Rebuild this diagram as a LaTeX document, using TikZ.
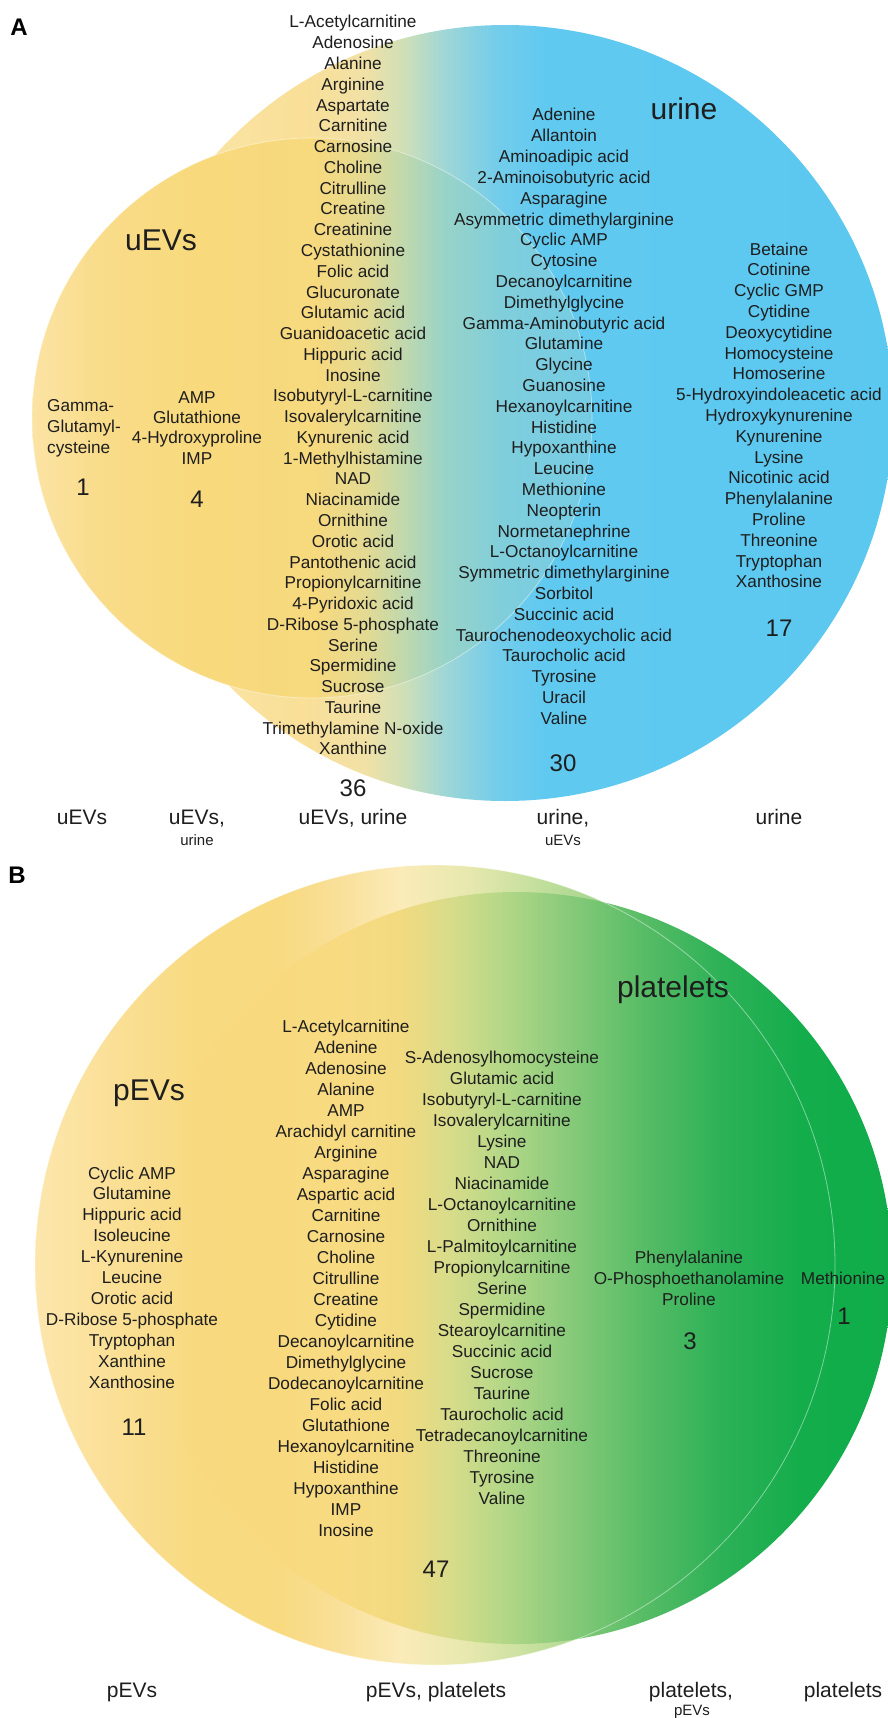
\documentclass[tikz,border=0pt]{standalone}
\usepackage{fontspec}
\setmainfont{Liberation Sans}
\usepackage{tikz}
\usetikzlibrary{fadings}
\definecolor{venntext}{HTML}{1E1E1E}
% panel A colours
\definecolor{ur0}{HTML}{FBE8B2}
\definecolor{ur1}{HTML}{FAE3A2}
\definecolor{ur2}{HTML}{F9DF98}
\definecolor{ur3}{HTML}{F1E1A6}
\definecolor{ur4}{HTML}{CDDFB8}
\definecolor{ur5}{HTML}{9FD6D6}
\definecolor{ur6}{HTML}{74CDEA}
\definecolor{ur7}{HTML}{60C9F0}
\definecolor{ur8}{HTML}{5BC8F0}
\definecolor{ue0}{HTML}{FBE3A4}
\definecolor{ue1}{HTML}{F9DC8A}
\definecolor{ue2}{HTML}{F8D97C}
\definecolor{ue3}{HTML}{F7D97E}
\definecolor{ue4}{HTML}{E4DA92}
\definecolor{ue5}{HTML}{BFD8AE}
\definecolor{ue6}{HTML}{98D3C8}
\definecolor{ue7}{HTML}{7FCEDC}
\definecolor{ue8}{HTML}{74CCE4}
% panel B colours
\definecolor{pe0}{HTML}{FCE6AC}
\definecolor{pe1}{HTML}{FADF94}
\definecolor{pe2}{HTML}{F8DA80}
\definecolor{pe3}{HTML}{F9E09A}
\definecolor{pe4}{HTML}{FBEBB8}
\definecolor{pe5}{HTML}{E6E8AE}
\definecolor{pe6}{HTML}{C2DF9C}
\definecolor{pe7}{HTML}{A0D48C}
\definecolor{pe8}{HTML}{8ECC80}
\definecolor{pl1}{HTML}{F8D97A}
\definecolor{pl2}{HTML}{F2DA80}
\definecolor{pl3}{HTML}{D8DC8A}
\definecolor{pl4}{HTML}{B6D888}
\definecolor{pl5}{HTML}{8DCC7C}
\definecolor{pl6}{HTML}{5ABD67}
\definecolor{pl7}{HTML}{2DB157}
\definecolor{pl8}{HTML}{14AD4C}
\definecolor{pl9}{HTML}{0FAD4A}
\pgfdeclarehorizontalshading{urineshade}{100bp}{color(0bp)=(ur0); color(25bp)=(ur0);
  color(31.6bp)=(ur1); color(37.1bp)=(ur2); color(41bp)=(ur3); color(43.6bp)=(ur4);
  color(46.1bp)=(ur5); color(49.4bp)=(ur6); color(52.6bp)=(ur7); color(75bp)=(ur8); color(100bp)=(ur8)}
\pgfdeclarehorizontalshading{uevshade}{100bp}{color(0bp)=(ue0); color(25bp)=(ue0);
  color(31.1bp)=(ue1); color(40bp)=(ue2); color(50.3bp)=(ue3); color(54.7bp)=(ue4);
  color(58.3bp)=(ue5); color(61.9bp)=(ue6); color(67.2bp)=(ue7); color(75bp)=(ue8); color(100bp)=(ue8)}
\pgfdeclarehorizontalshading{pevshade}{100bp}{color(0bp)=(pe0); color(25bp)=(pe0);
  color(30.3bp)=(pe1); color(35.3bp)=(pe2); color(40.3bp)=(pe2); color(44.1bp)=(pe3);
  color(47.8bp)=(pe4); color(52.2bp)=(pe5); color(56.6bp)=(pe6); color(60.9bp)=(pe7);
  color(75bp)=(pe8); color(100bp)=(pe8)}
\pgfdeclarehorizontalshading{plateshade}{100bp}{color(0bp)=(pl1); color(25bp)=(pl1);
  color(38.3bp)=(pl1); color(42.3bp)=(pl2); color(45.6bp)=(pl3); color(48.9bp)=(pl4);
  color(52.9bp)=(pl5); color(58.2bp)=(pl6); color(63.6bp)=(pl7); color(68.9bp)=(pl8);
  color(75bp)=(pl9); color(100bp)=(pl9)}
\pgfdeclarehorizontalshading{platealpha}{100bp}{color(0bp)=(black); color(25bp)=(black);
  color(27.7bp)=(black); color(33bp)=(black!65!white); color(37.6bp)=(black!25!white);
  color(42.3bp)=(white); color(100bp)=(white)}
\newcommand{\vennmetabfont}{\fontsize{17.2pt}{20.8pt}\selectfont}
\newcommand{\venncountfont}{\fontsize{24pt}{28pt}\selectfont}
\newcommand{\vennsetfont}{\fontsize{30pt}{34pt}\selectfont}
\newcommand{\vennregionfont}{\fontsize{21pt}{25pt}\selectfont}
\newcommand{\vennsubfont}{\fontsize{15pt}{18pt}\selectfont}
\newcommand{\vennpanelfont}{\fontsize{24pt}{28pt}\selectfont\bfseries}
\tikzset{
  vennmetab/.style={font=\vennmetabfont,text=venntext,inner sep=0pt,anchor=base},
  venncount/.style={font=\venncountfont,text=venntext,inner sep=0pt,anchor=base},
  vennset/.style={font=\vennsetfont,text=venntext,inner sep=0pt,anchor=base},
  vennregion/.style={font=\vennregionfont,text=venntext,inner sep=0pt,anchor=base},
  vennsub/.style={font=\vennsubfont,text=venntext,inner sep=0pt,anchor=base},
  vennpanel/.style={font=\vennpanelfont,text=black,inner sep=0pt,anchor=base},
  vennrim/.style={draw=white,draw opacity=.45,line width=.8pt}
}
\begin{tikzfadingfrompicture}[name=platefade,x=1pt,y=1pt]
  \shade[shading=platealpha] (-376,-376) rectangle (376,376);
\end{tikzfadingfrompicture}
\begin{document}
\begin{tikzpicture}[x=1pt,y=-1pt]
  \fill[white] (0,0) rectangle (888,1718);
  \useasboundingbox (0,0) rectangle (888,1718);

  % A: uEVs and urine
  \shade[shading=urineshade] (505,413) circle[radius=388pt];
  \shade[shading=uevshade] (312,418) circle[radius=280pt];
  \draw[vennrim] (312,418) circle[radius=280pt];

  \node[vennpanel] (panela) at (19,36) {A};
  \node[vennset] (uevsname) at (161,250) {uEVs};
  \node[vennset] (urinename) at (684,120) {urine};

  \foreach \m [count=\i] in {Gamma-, Glutamyl-, cysteine}
    \node[vennmetab,anchor=base west] (aev\i) at (47,{411+21*(\i-1)}) {\m};
  \foreach \m [count=\i] in {AMP, Glutathione, 4-Hydroxyproline, IMP}
    \node[vennmetab] (aevu\i) at (197,{403+20.4*(\i-1)}) {\m};
  \foreach \m [count=\i] in {L-Acetylcarnitine, Adenosine, Alanine, Arginine, Aspartate,
      Carnitine, Carnosine, Choline, Citrulline, Creatine, Creatinine, Cystathionine,
      Folic acid, Glucuronate, Glutamic acid, Guanidoacetic acid, Hippuric acid, Inosine,
      Isobutyryl-L-carnitine, Isovalerylcarnitine, Kynurenic acid, 1-Methylhistamine, NAD,
      Niacinamide, Ornithine, Orotic acid, Pantothenic acid, Propionylcarnitine,
      4-Pyridoxic acid, D-Ribose 5-phosphate, Serine, Spermidine, Sucrose, Taurine,
      Trimethylamine N-oxide, Xanthine}
    \node[vennmetab] (aboth\i) at (353,{28+20.77*(\i-1)}) {\m};
  \foreach \m [count=\i] in {Adenine, Allantoin, Aminoadipic acid, 2-Aminoisobutyric acid,
      Asparagine, Asymmetric dimethylarginine, Cyclic AMP, Cytosine, Decanoylcarnitine,
      Dimethylglycine, Gamma-Aminobutyric acid, Glutamine, Glycine, Guanosine,
      Hexanoylcarnitine, Histidine, Hypoxanthine, Leucine, Methionine, Neopterin,
      Normetanephrine, L-Octanoylcarnitine, Symmetric dimethylarginine, Sorbitol,
      Succinic acid, Taurochenodeoxycholic acid, Taurocholic acid, Tyrosine, Uracil, Valine}
    \node[vennmetab] (auev\i) at (564,{121+20.8*(\i-1)}) {\m};
  \foreach \m [count=\i] in {Betaine, Cotinine, Cyclic GMP, Cytidine, Deoxycytidine,
      Homocysteine, Homoserine, 5-Hydroxyindoleacetic acid, Hydroxykynurenine, Kynurenine,
      Lysine, Nicotinic acid, Phenylalanine, Proline, Threonine, Tryptophan, Xanthosine}
    \node[vennmetab] (aur\i) at (779,{255+20.8*(\i-1)}) {\m};

  \node[venncount] (nev) at (83,495.5) {1};
  \node[venncount] (nevu) at (197,507.5) {4};
  \node[venncount] (nboth) at (353,796.5) {36};
  \node[venncount] (nuev) at (563,771.5) {30};
  \node[venncount] (nur) at (779,636.5) {17};

  \node[vennregion] (rega1) at (82,824) {uEVs};
  \node[vennregion] (rega2) at (197,824) {uEVs,};
  \node[vennsub] (rega2s) at (197,845) {urine};
  \node[vennregion] (rega3) at (353,824) {uEVs, urine};
  \node[vennregion] (rega4) at (563,824) {urine,};
  \node[vennsub] (rega4s) at (563,845) {uEVs};
  \node[vennregion] (rega5) at (779,824) {urine};

  % B: pEVs and platelets
  \shade[shading=pevshade] (435,1265) circle[radius=400pt];
  \shade[shading=plateshade,path fading=platefade,fit fading=false,
    fading transform={shift={(516,1268)}}] (516,1268) circle[radius=376pt];
  \draw[vennrim] (435,1265) circle[radius=400pt];

  \node[vennpanel] (panelb) at (17,883) {B};
  \node[vennset] (pevsname) at (149,1100) {pEVs};
  \node[vennset] (platename) at (673,997) {platelets};

  \foreach \m [count=\i] in {Cyclic AMP, Glutamine, Hippuric acid, Isoleucine, L-Kynurenine,
      Leucine, Orotic acid, D-Ribose 5-phosphate, Tryptophan, Xanthine, Xanthosine}
    \node[vennmetab] (bpe\i) at (132,{1179+20.9*(\i-1)}) {\m};
  \foreach \m [count=\i] in {L-Acetylcarnitine, Adenine, Adenosine, Alanine, AMP,
      Arachidyl carnitine, Arginine, Asparagine, Aspartic acid, Carnitine, Carnosine,
      Choline, Citrulline, Creatine, Cytidine, Decanoylcarnitine, Dimethylglycine,
      Dodecanoylcarnitine, Folic acid, Glutathione, Hexanoylcarnitine, Histidine,
      Hypoxanthine, IMP, Inosine}
    \node[vennmetab] (bbotha\i) at (346,{1032+21*(\i-1)}) {\m};
  \foreach \m [count=\i] in {S-Adenosylhomocysteine, Glutamic acid, Isobutyryl-L-carnitine,
      Isovalerylcarnitine, Lysine, NAD, Niacinamide, L-Octanoylcarnitine, Ornithine,
      L-Palmitoylcarnitine, Propionylcarnitine, Serine, Spermidine, Stearoylcarnitine,
      Succinic acid, Sucrose, Taurine, Taurocholic acid, Tetradecanoylcarnitine, Threonine,
      Tyrosine, Valine}
    \node[vennmetab] (bbothb\i) at (502,{1063+21*(\i-1)}) {\m};
  \foreach \m [count=\i] in {Phenylalanine, O-Phosphoethanolamine, Proline}
    \node[vennmetab] (bplpe\i) at (689,{1263+21*(\i-1)}) {\m};
  \node[vennmetab] (bpl1) at (843,1284) {Methionine};

  \node[venncount] (npe) at (134,1435.5) {11};
  \node[venncount] (nboth2) at (436,1577.5) {47};
  \node[venncount] (nplpe) at (690,1349.5) {3};
  \node[venncount] (npl) at (844,1324.5) {1};

  \node[vennregion] (regb1) at (132,1697) {pEVs};
  \node[vennregion] (regb2) at (436,1697) {pEVs, platelets};
  \node[vennregion] (regb3) at (691,1697) {platelets,};
  \node[vennsub] (regb3s) at (692,1715) {pEVs};
  \node[vennregion] (regb4) at (843,1697) {platelets};
\end{tikzpicture}
\end{document}
